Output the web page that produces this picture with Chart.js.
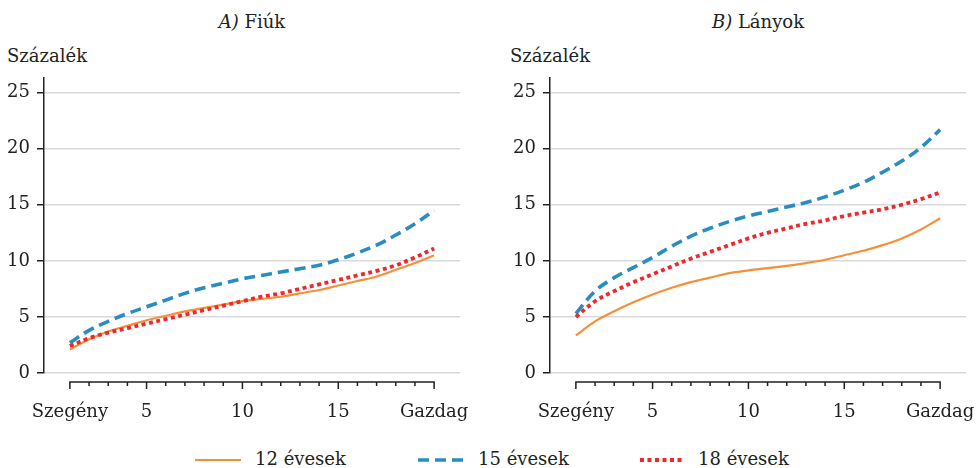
<!DOCTYPE html>
<html lang="hu">
<head>
  <meta charset="UTF-8">
  <title>Fiúk és lányok</title>
  <script src="https://cdn.jsdelivr.net/npm/chart.js"></script>
  <style>
    body {
      margin: 0;
      background: #fff;
      font-family: "DejaVu Serif", serif;
      color: #222;
    }
    .wrap { position: relative; width: 977px; height: 468px; }
    .panel { position: absolute; top: 0; height: 430px; }
    .ptitle { position: absolute; top: 11px; font-size: 18px; white-space: nowrap; transform: translateX(-50%); }
    .ylab { position: absolute; top: 45px; font-size: 18px; }
    .legend-item { position: absolute; top: 448px; font-size: 18px; white-space: nowrap; }
    .legend-item canvas { vertical-align: middle; margin-right: 14px; }
  </style>
</head>
<body>
<div class="wrap">
  <div class="ptitle" style="left:252px"><i>A)</i> Fiúk</div>
  <div class="ylab" style="left:7px">Százalék</div>
  <div class="panel" style="left:0;width:480px"><canvas id="boys" width="480" height="430"></canvas></div>

  <div class="ptitle" style="left:758px"><i>B)</i> Lányok</div>
  <div class="ylab" style="left:510px">Százalék</div>
  <div class="panel" style="left:500px;width:477px"><canvas id="girls" width="477" height="430"></canvas></div>

  <div class="legend-item" style="left:195px"><canvas id="lg12" width="46" height="10"></canvas>12 évesek</div>
  <div class="legend-item" style="left:418px"><canvas id="lg15" width="46" height="10"></canvas>15 évesek</div>
  <div class="legend-item" style="left:640px"><canvas id="lg18" width="44" height="10"></canvas>18 évesek</div>
</div>

<script>
// jövedelmi ventilisek 1..20
const deciles = [1,2,3,4,5,6,7,8,9,10,11,12,13,14,15,16,17,18,19,20];
const xTickLabels = {1: 'Szegény', 5: '5', 10: '10', 15: '15', 20: 'Gazdag'};
const yTicks = [0, 5, 10, 15, 20, 25];

const boys12 = [2.1, 3.0, 3.7, 4.2, 4.7, 5.1, 5.5, 5.8, 6.1, 6.4, 6.6, 6.8, 7.1, 7.4, 7.8, 8.2, 8.6, 9.2, 9.8, 10.5];
const boys15 = [2.7, 3.8, 4.6, 5.3, 5.9, 6.5, 7.1, 7.6, 8.0, 8.4, 8.7, 9.0, 9.3, 9.6, 10.1, 10.7, 11.4, 12.3, 13.3, 14.5];
const boys18 = [2.4, 3.1, 3.6, 4.0, 4.4, 4.8, 5.2, 5.6, 6.0, 6.4, 6.8, 7.1, 7.5, 7.9, 8.3, 8.7, 9.1, 9.6, 10.3, 11.1];

const girls12 = [3.35, 4.6, 5.5, 6.3, 7.0, 7.6, 8.1, 8.5, 8.9, 9.15, 9.35, 9.55, 9.8, 10.1, 10.5, 10.9, 11.4, 12.0, 12.8, 13.8];
const girls15 = [5.3, 7.3, 8.5, 9.4, 10.3, 11.3, 12.2, 12.9, 13.5, 14.0, 14.4, 14.8, 15.2, 15.7, 16.3, 17.0, 17.9, 18.9, 20.1, 21.7];
const girls18 = [5.0, 6.4, 7.3, 8.1, 8.8, 9.5, 10.2, 10.8, 11.4, 12.0, 12.5, 12.9, 13.3, 13.6, 14.0, 14.3, 14.6, 15.0, 15.5, 16.1];

const ORANGE = '#f5903a';
const BLUE = '#2a8cc0';
const RED = '#ec2a2e';
const INK = '#222';
const FONT = { family: '"DejaVu Serif", serif', size: 18 };

const styles = {
  s12: { borderColor: ORANGE, borderWidth: 2.2, borderDash: [] },
  s15: { borderColor: BLUE, borderWidth: 3.6, borderDash: [11, 6] },
  s18: { borderColor: RED, borderWidth: 3.8, borderDash: [4, 3.5] }
};

// x tengely: saját vonal és kis osztások a 0-s rácsvonal alatt
const xAxisPlugin = {
  id: 'xAxisLine',
  afterDraw(chart) {
    const xs = chart.scales.x;
    const ctx = chart.ctx;
    const y0 = chart.chartArea.bottom + 9;
    ctx.save();
    ctx.strokeStyle = INK;
    ctx.lineWidth = 1.5;
    ctx.beginPath();
    ctx.moveTo(xs.getPixelForValue(deciles[0]) - 0.75, y0);
    ctx.lineTo(xs.getPixelForValue(deciles[deciles.length - 1]) + 0.75, y0);
    deciles.forEach(d => {
      const px = xs.getPixelForValue(d);
      const len = xTickLabels[d] ? 7 : 4;
      ctx.moveTo(px, y0);
      ctx.lineTo(px, y0 + len);
    });
    ctx.stroke();
    ctx.restore();
  }
};

function makeChart(id, s12, s15, s18, yWidth, padRight) {
  const mk = (label, data, st) => ({
    label: label,
    data: deciles.map((d, i) => ({ x: d, y: data[i] })),
    borderColor: st.borderColor,
    borderWidth: st.borderWidth,
    borderDash: st.borderDash,
    borderCapStyle: 'butt',
    pointRadius: 0,
    tension: 0.35,
    fill: false
  });
  return new Chart(document.getElementById(id), {
    type: 'line',
    data: {
      datasets: [
        mk('18 évesek', s18, styles.s18),
        mk('15 évesek', s15, styles.s15),
        mk('12 évesek', s12, styles.s12)
      ]
    },
    options: {
      responsive: false,
      animation: false,
      layout: { padding: { top: 78, right: padRight, bottom: 0, left: 0 } },
      plugins: { legend: { display: false }, tooltip: { enabled: false } },
      scales: {
        x: {
          type: 'linear',
          min: -0.35,
          max: 21.35,
          grid: { display: false },
          border: { display: false },
          afterBuildTicks: scale => { scale.ticks = Object.keys(xTickLabels).map(v => ({ value: +v })); },
          afterFit: scale => {
            scale.height = 57;
            scale.paddingLeft = 0;
            scale.paddingRight = 0;
          },
          ticks: {
            autoSkip: false,
            maxRotation: 0,
            padding: 21,
            color: INK,
            font: FONT,
            callback: v => xTickLabels[v]
          }
        },
        y: {
          min: 0,
          max: 26.3,
          afterBuildTicks: scale => { scale.ticks = yTicks.map(v => ({ value: v })); },
          afterFit: scale => { scale.width = yWidth; },
          border: { display: true, color: INK, width: 1.5 },
          grid: { color: '#d9d9d9', lineWidth: 1.5, tickColor: INK, tickLength: 7, tickWidth: 1.5 },
          ticks: { padding: 7, color: INK, font: FONT }
        }
      }
    },
    plugins: [xAxisPlugin]
  });
}

makeChart('boys', boys12, boys15, boys18, 44, 20);
makeChart('girls', girls12, girls15, girls18, 50, 11);

// jelmagyarázat mintái
function sample(id, st) {
  const c = document.getElementById(id);
  const ctx = c.getContext('2d');
  ctx.strokeStyle = st.borderColor;
  ctx.lineWidth = st.borderWidth;
  ctx.setLineDash(st.borderDash);
  ctx.beginPath();
  ctx.moveTo(0, 5);
  ctx.lineTo(c.width, 5);
  ctx.stroke();
}
sample('lg12', styles.s12);
sample('lg15', styles.s15);
sample('lg18', styles.s18);
</script>
</body>
</html>
